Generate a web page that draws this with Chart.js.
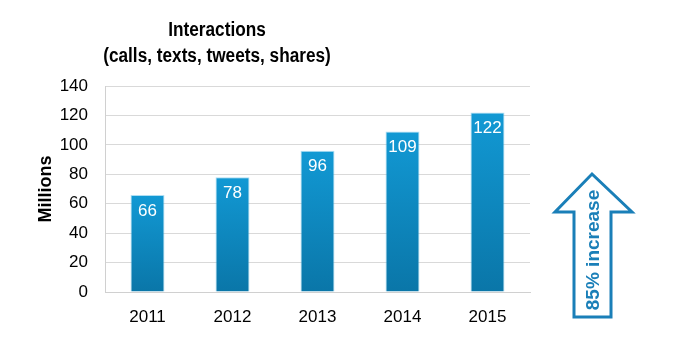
<!DOCTYPE html>
<html>
<head>
<meta charset="utf-8">
<title>Interactions</title>
<script src="https://cdn.jsdelivr.net/npm/chart.js"></script>
<style>
  html, body { margin: 0; padding: 0; background: #fff; }
  canvas { display: block; }
</style>
</head>
<body>
<canvas id="chart" width="677" height="359"></canvas>
<script>
// chart data
const years = ['2011', '2012', '2013', '2014', '2015'];
const interactions = [66, 78, 96, 109, 122];
const yTicks = [0, 20, 40, 60, 80, 100, 120, 140];

const titleLines = ['Interactions', '(calls, texts, tweets, shares)'];
const arrowText = '85% increase';
const blue = '#1a7fb8';

// gradient per bar, light at top, darker at the base
function barGradient(ctx) {
  const chart = ctx.chart;
  if (!chart.chartArea || ctx.parsed == null) return '#0f8cc4';
  const y = chart.scales.y;
  const top = y.getPixelForValue(ctx.parsed.y);
  const bottom = y.getPixelForValue(0);
  const g = chart.ctx.createLinearGradient(0, top, 0, bottom);
  g.addColorStop(0, '#1299d4');
  g.addColorStop(1, '#0a76a8');
  return g;
}

// title, value labels and the arrow callout
const extras = {
  id: 'extras',
  afterDatasetsDraw(chart) {
    const ctx = chart.ctx;
    const meta = chart.getDatasetMeta(0);
    ctx.save();
    ctx.fillStyle = '#fff';
    ctx.font = '17px "Liberation Sans", Arial, sans-serif';
    ctx.textAlign = 'center';
    ctx.textBaseline = 'middle';
    meta.data.forEach((bar, i) => {
      ctx.fillText(String(interactions[i]), bar.x, bar.y + 16);
    });
    ctx.restore();
  },
  afterDraw(chart) {
    const ctx = chart.ctx;
    ctx.save();
    // title (narrow bold, like the original)
    ctx.fillStyle = '#000';
    ctx.font = 'bold 20px "Liberation Sans", Arial, sans-serif';
    ctx.textAlign = 'center';
    ctx.textBaseline = 'alphabetic';
    [[titleLines[0], 36], [titleLines[1], 62]].forEach(([t, yy]) => {
      ctx.save();
      ctx.translate(217, yy);
      ctx.scale(0.86, 1);
      ctx.fillText(t, 0, 0);
      ctx.restore();
    });

    // arrow outline
    ctx.beginPath();
    ctx.moveTo(592, 174);
    ctx.lineTo(632, 212);
    ctx.lineTo(611, 212);
    ctx.lineTo(611, 317);
    ctx.lineTo(574, 317);
    ctx.lineTo(574, 212);
    ctx.lineTo(555, 212);
    ctx.closePath();
    ctx.fillStyle = '#fff';
    ctx.fill();
    ctx.lineWidth = 3;
    ctx.lineJoin = 'miter';
    ctx.strokeStyle = blue;
    ctx.stroke();

    // arrow text
    ctx.translate(594, 250);
    ctx.rotate(-Math.PI / 2);
    ctx.fillStyle = blue;
    ctx.font = 'bold 19px "Liberation Sans", Arial, sans-serif';
    ctx.textAlign = 'center';
    ctx.textBaseline = 'middle';
    ctx.fillText(arrowText, 0, 0);
    ctx.restore();
  }
};

new Chart(document.getElementById('chart'), {
  type: 'bar',
  data: {
    labels: years,
    datasets: [{
      data: interactions,
      backgroundColor: barGradient,
      borderColor: 'rgba(120,200,235,0.6)',
      borderWidth: { top: 1, left: 1, right: 1, bottom: 0 },
      barPercentage: 0.4,
      categoryPercentage: 1
    }]
  },
  options: {
    responsive: false,
    animation: false,
    devicePixelRatio: 1,
    layout: { padding: { top: 86, right: 147, left: 0, bottom: 0 } },
    plugins: {
      legend: { display: false },
      title: { display: false },
      tooltip: { enabled: false }
    },
    scales: {
      x: {
        afterFit: s => { s.height = 67; },
        grid: { display: false, drawTicks: false },
        border: { color: '#d0d0d0', width: 1 },
        ticks: {
          padding: 15,
          color: '#000',
          font: { family: '"Liberation Sans", Arial, sans-serif', size: 17 }
        }
      },
      y: {
        min: 0,
        max: 140,
        afterFit: s => { s.width = 105; },
        afterBuildTicks: s => { s.ticks = yTicks.map(v => ({ value: v })); },
        grid: { color: '#d9d9d9', drawTicks: false },
        border: { color: '#d0d0d0', width: 1 },
        ticks: {
          padding: 17,
          color: '#000',
          font: { family: '"Liberation Sans", Arial, sans-serif', size: 17 }
        },
        title: {
          display: true,
          text: 'Millions',
          color: '#000',
          padding: { top: 35, bottom: 0 },
          font: { family: '"Liberation Sans", Arial, sans-serif', size: 18, weight: 'bold' }
        }
      }
    }
  },
  plugins: [extras]
});
</script>
</body>
</html>
